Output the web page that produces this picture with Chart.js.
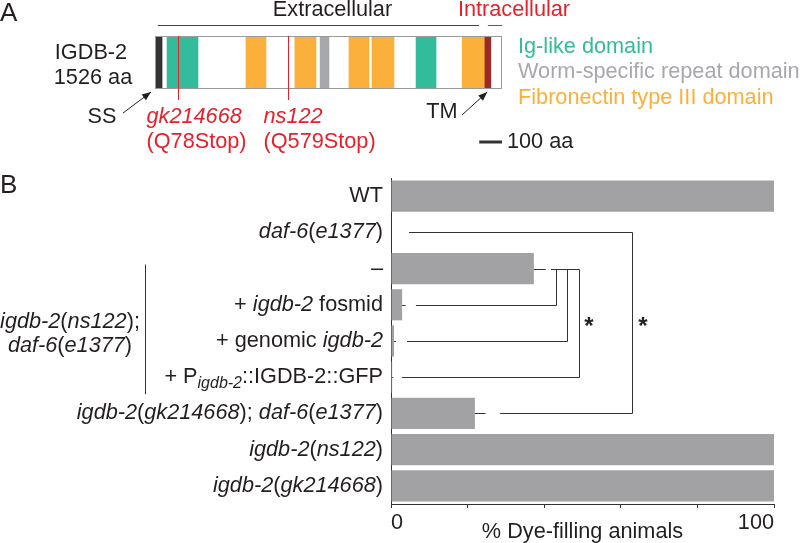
<!DOCTYPE html>
<html>
<head>
<meta charset="utf-8">
<script src="https://cdn.jsdelivr.net/npm/chart.js@4.4.0/dist/chart.umd.min.js"></script>
<style>
  html, body { margin: 0; padding: 0; background: #fff; }
  #wrap { position: relative; width: 800px; height: 543px; overflow: hidden; }
  canvas { position: absolute; left: 0; }
  #domainChart { top: 0; }
  #dyeChart { top: 170px; }
</style>
</head>
<body>
<div id="wrap">
  <canvas id="domainChart" width="800" height="170"></canvas>
  <canvas id="dyeChart" width="800" height="373"></canvas>
</div>
<script>
/* ---------- DATA: panel A (protein domains, in aa) ---------- */
const proteinLength = 1526;
const domainType  = ['SS', 'Ig', 'FN3', 'FN3', 'WSR', 'FN3', 'FN3', 'Ig', 'FN3', 'TM'];
const domainStart = [0, 53, 400, 615, 726, 853, 954, 1148, 1351, 1448];
const domainEnd   = [31, 189, 488, 708, 765, 941, 1051, 1236, 1448, 1477];
const mutationName   = ['gk214668', 'ns122'];
const mutationChange = ['(Q78Stop)', '(Q579Stop)'];
const mutationPos    = [101, 585];
const extracellular  = [13, 1425];
const intracellular  = [1464, 1526];
const scaleBarAa = 100;

/* ---------- DATA: panel B (dye filling) ---------- */
// *text* = italic, _text_ = italic subscript
const rowLabels = [
  'WT',
  '*daf-6*(*e1377*)',
  '\u2013',
  '+ *igdb-2* fosmid',
  '+ genomic *igdb-2*',
  '+ P_igdb-2_::IGDB-2::GFP',
  '*igdb-2*(*gk214668*); *daf-6*(*e1377*)',
  '*igdb-2*(*ns122*)',
  '*igdb-2*(*gk214668*)'
];
const dyeFilling    = [100, 0, 37.3, 2.9, 0.8, 0.3, 21.9, 100, 100];
const dyeFillingErr = [0, 0, 3.1, 0.9, 0.5, 0.3, 2.8, 0, 0];
const xTicks = [0, 100];

// significance brackets: [row a, row b], vertical at x, horizontal starts at x
const bracketRows  = [[1, 6], [2, 3], [2, 4], [2, 5]];
const bracketX     = [62.9, 43.1, 46.0, 49.1];
const bracketStart = [[4.7, 28.5], [41.8, 6.5], [41.8, 4.2], [41.8, 2.9]];
const starX = [65.8, 51.7];

/* ---------- HELPERS ---------- */
const FONT = '"Liberation Sans", Arial, Helvetica, sans-serif';
const FS = 21.7;
const INK = '#231f20';
const RED = '#e8202a';
const domainColors = { SS: '#333333', Ig: '#33bc9c', FN3: '#fbb03b', WSR: '#a7a8ab', TM: '#9b2a2a' };

function drawRich(ctx, markup, x, y, size, align) {
  const parts = [];
  let mode = 'n', buf = '';
  for (const ch of markup) {
    if (ch === '*' || ch === '_') {
      if (buf) parts.push([buf, mode]);
      buf = '';
      const m = ch === '*' ? 'i' : 's';
      mode = mode === m ? 'n' : m;
    } else buf += ch;
  }
  if (buf) parts.push([buf, mode]);
  const fontFor = m => (m === 'n' ? '' : 'italic ') + (m === 's' ? Math.round(size * 0.72) : size) + 'px ' + FONT;
  let total = 0;
  parts.forEach(p => { ctx.font = fontFor(p[1]); p.push(ctx.measureText(p[0]).width); total += p[2]; });
  let cx = align === 'right' ? x - total : align === 'center' ? x - total / 2 : x;
  ctx.textAlign = 'left';
  ctx.textBaseline = 'middle';
  parts.forEach(p => {
    ctx.font = fontFor(p[1]);
    ctx.fillText(p[0], cx, p[1] === 's' ? y + size * 0.3 : y);
    cx += p[2];
  });
}

function text(ctx, s, x, y, size, color, align, style) {
  ctx.font = (style ? style + ' ' : '') + size + 'px ' + FONT;
  ctx.fillStyle = color;
  ctx.textAlign = align || 'left';
  ctx.textBaseline = 'middle';
  ctx.fillText(s, x, y);
}

function line(ctx, x1, y1, x2, y2, color, w) {
  ctx.strokeStyle = color;
  ctx.lineWidth = w || 1;
  ctx.beginPath();
  ctx.moveTo(x1, y1);
  ctx.lineTo(x2, y2);
  ctx.stroke();
}

function arrow(ctx, x1, y1, x2, y2) {
  line(ctx, x1, y1, x2, y2, INK, 1);
  const a = Math.atan2(y2 - y1, x2 - x1), L = 9, W = 3.5;
  ctx.fillStyle = INK;
  ctx.beginPath();
  ctx.moveTo(x2, y2);
  ctx.lineTo(x2 - L * Math.cos(a) + W * Math.sin(a), y2 - L * Math.sin(a) - W * Math.cos(a));
  ctx.lineTo(x2 - L * Math.cos(a) - W * Math.sin(a), y2 - L * Math.sin(a) + W * Math.cos(a));
  ctx.closePath();
  ctx.fill();
}

/* ---------- PANEL A ---------- */
const domainAnnotations = {
  id: 'domainAnnotations',
  afterDatasetsDraw(chart) {
    const ctx = chart.ctx, x = chart.scales.x, area = chart.chartArea;
    const top = area.top, bottom = area.bottom;
    ctx.save();
    // outline
    ctx.strokeStyle = '#9a9a9a';
    ctx.lineWidth = 1;
    ctx.strokeRect(Math.round(x.getPixelForValue(0)) + 0.5, top + 0.5,
      Math.round(x.getPixelForValue(proteinLength) - x.getPixelForValue(0)) - 1, bottom - top - 1);
    // mutations
    mutationPos.forEach((p, i) => {
      const px = Math.round(x.getPixelForValue(p)) + 0.5;
      line(ctx, px, top, px, 100, RED, 1);
      const lx = px - (i === 0 ? 32 : 25);
      text(ctx, mutationName[i], lx, 117, FS, RED, 'left', 'italic');
      text(ctx, mutationChange[i], lx, 142, FS, RED, 'left');
    });
    // extracellular / intracellular
    line(ctx, x.getPixelForValue(extracellular[0]), 25.5, x.getPixelForValue(extracellular[1]), 25.5, '#444', 1);
    text(ctx, 'Extracellular', (x.getPixelForValue(extracellular[0]) + x.getPixelForValue(extracellular[1])) / 2 + 14, 10, FS, INK, 'center');
    line(ctx, x.getPixelForValue(intracellular[0]), 25.5, x.getPixelForValue(intracellular[1]), 25.5, RED, 1);
    text(ctx, 'Intracellular', 514, 10, FS, RED, 'center');
    // protein name
    text(ctx, 'IGDB-2', 91, 53, FS, INK, 'center');
    text(ctx, '1526 aa', 93, 78, FS, INK, 'center');
    text(ctx, 'A', 0, 14, 26, INK, 'left');
    // SS / TM
    text(ctx, 'SS', 102, 117, FS, INK, 'center');
    arrow(ctx, 123, 113, x.getPixelForValue(domainStart[0]) - 4, bottom + 3);
    text(ctx, 'TM', 442, 112, FS, INK, 'center');
    arrow(ctx, 462, 115, x.getPixelForValue(domainStart[9]) + 3, bottom + 3);
    // scale bar
    const sb1 = x.getPixelForValue(proteinLength - scaleBarAa), sb2 = x.getPixelForValue(proteinLength);
    line(ctx, sb1, 142, sb2, 142, '#333', 3);
    text(ctx, '100 aa', sb2 + 5, 142, FS, INK, 'left');
    // legend
    text(ctx, 'Ig-like domain', 518, 47, FS, domainColors.Ig, 'left');
    text(ctx, 'Worm-specific repeat domain', 518, 72, FS, domainColors.WSR, 'left');
    text(ctx, 'Fibronectin type III domain', 518, 98, FS, domainColors.FN3, 'left');
    ctx.restore();
  }
};

new Chart(document.getElementById('domainChart'), {
  type: 'bar',
  data: {
    labels: ['IGDB-2'],
    datasets: domainType.map((t, i) => ({
      label: t,
      data: [[domainStart[i], domainEnd[i]]],
      backgroundColor: domainColors[t],
      grouped: false,
      barPercentage: 1,
      categoryPercentage: 1
    }))
  },
  options: {
    indexAxis: 'y',
    responsive: false,
    animation: false,
    layout: { padding: { left: 155, right: 298, top: 36, bottom: 81 } },
    plugins: { legend: { display: false }, tooltip: { enabled: false } },
    scales: {
      x: { display: false, min: 0, max: proteinLength },
      y: { display: false }
    }
  },
  plugins: [domainAnnotations]
});

/* ---------- PANEL B ---------- */
const dyeAnnotations = {
  id: 'dyeAnnotations',
  afterDatasetsDraw(chart) {
    const ctx = chart.ctx, x = chart.scales.x, y = chart.scales.y, area = chart.chartArea;
    ctx.save();
    ctx.fillStyle = INK;
    // row labels
    rowLabels.forEach((lab, i) => drawRich(ctx, lab, area.left - 8, y.getPixelForValue(i), FS, 'right'));
    // error bars
    dyeFilling.forEach((v, i) => {
      if (!dyeFillingErr[i]) return;
      const py = Math.round(y.getPixelForValue(i)) + 0.5;
      line(ctx, x.getPixelForValue(v), py, x.getPixelForValue(v + dyeFillingErr[i]), py, '#333', 1);
    });
    // brackets
    bracketRows.forEach((rows, k) => {
      const bx = Math.round(x.getPixelForValue(bracketX[k])) + 0.5;
      const ya = Math.round(y.getPixelForValue(rows[0])) + 0.5;
      const yb = Math.round(y.getPixelForValue(rows[1])) + 0.5;
      line(ctx, x.getPixelForValue(bracketStart[k][0]), ya, bx, ya, '#333', 1);
      line(ctx, x.getPixelForValue(bracketStart[k][1]), yb, bx, yb, '#333', 1);
      line(ctx, bx, ya, bx, yb, '#333', 1);
    });
    starX.forEach(s => text(ctx, '*', x.getPixelForValue(s), y.getPixelForValue(3.5) + 4, 24, INK, 'center', 'bold'));
    // group label
    const gx = 145.5;
    line(ctx, gx, y.getPixelForValue(2) - 4, gx, y.getPixelForValue(5) + 17, '#333', 1);
    ctx.fillStyle = INK;
    drawRich(ctx, '*igdb-2*(*ns122*);', 70, 152, FS, 'center');
    drawRich(ctx, '*daf-6*(*e1377*)', 70, 176, FS, 'center');
    // panel letter + axis title
    text(ctx, 'B', 0, 16, 26, INK, 'left');
    text(ctx, '% Dye-filling animals', (x.getPixelForValue(0) + x.getPixelForValue(100)) / 2, 362, FS, INK, 'center');
    ctx.restore();
  }
};

new Chart(document.getElementById('dyeChart'), {
  type: 'bar',
  data: {
    labels: rowLabels,
    datasets: [{
      data: dyeFilling,
      backgroundColor: '#a2a2a5',
      barPercentage: 0.86,
      categoryPercentage: 1
    }]
  },
  options: {
    indexAxis: 'y',
    responsive: false,
    animation: false,
    layout: { padding: { left: 391, right: 26, top: 8, bottom: 0 } },
    plugins: { legend: { display: false }, tooltip: { enabled: false } },
    scales: {
      x: {
        min: 0, max: 100,
        afterFit: s => { s.height = 39; },
        ticks: {
          stepSize: 20, align: 'inner', padding: 2, color: INK, maxRotation: 0, autoSkip: false,
          font: { size: FS, family: FONT },
          callback: v => xTicks.includes(v) ? String(v) : ''
        },
        grid: { drawOnChartArea: false, drawTicks: true, tickLength: 4, color: '#333' },
        border: { color: '#333', width: 1 }
      },
      y: {
        afterFit: s => { s.width = 0; },
        ticks: { display: false },
        grid: { drawOnChartArea: false, drawTicks: false },
        border: { color: '#333', width: 1 }
      }
    }
  },
  plugins: [dyeAnnotations]
});
</script>
</body>
</html>
